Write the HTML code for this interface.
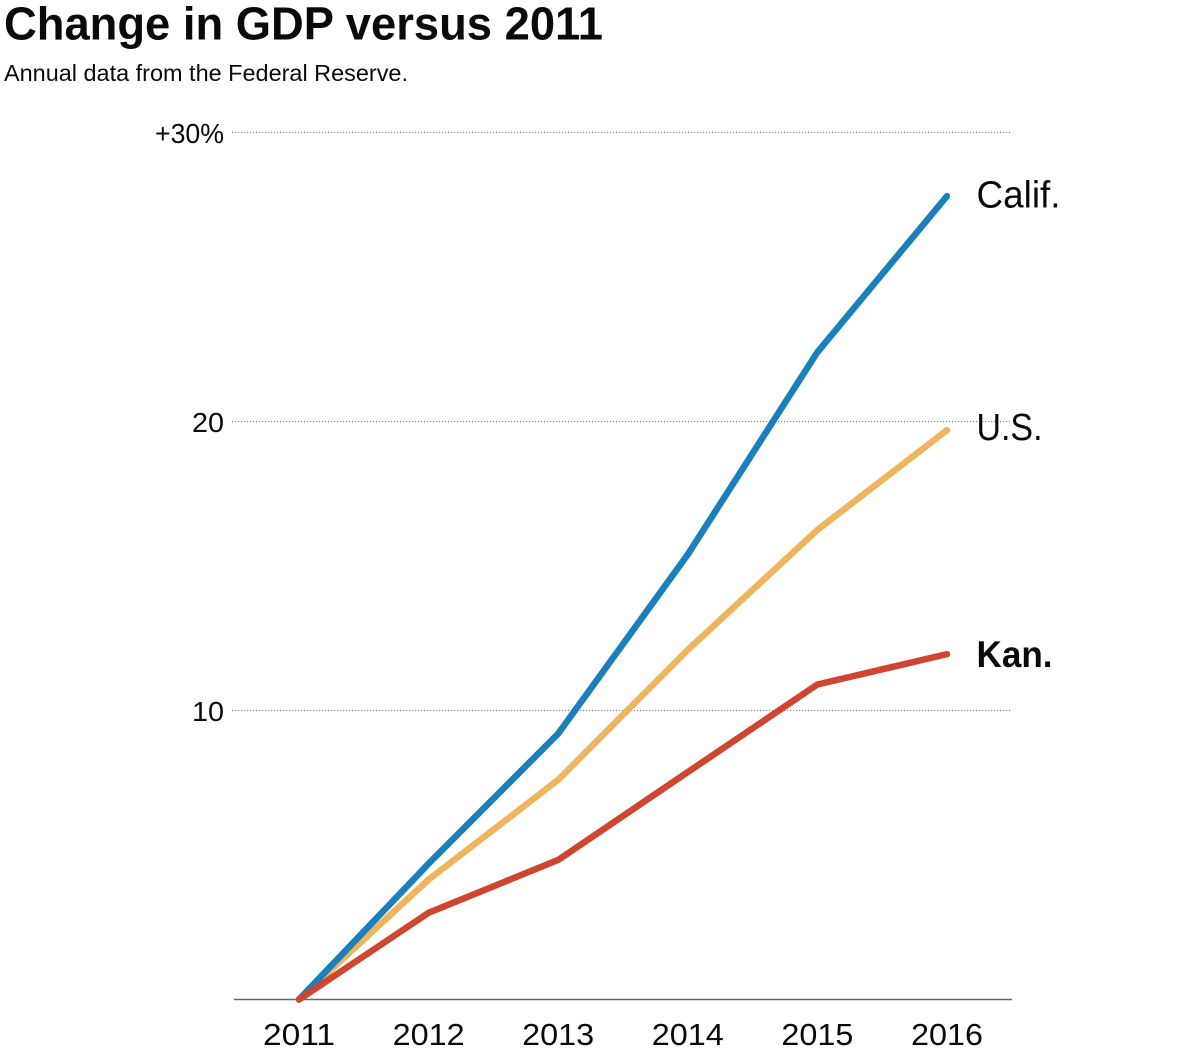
<!DOCTYPE html>
<html lang="en">
<head>
<meta charset="utf-8">
<title>Change in GDP versus 2011</title>
<style>
html,body{margin:0;padding:0;background:#fff;}
body{width:1200px;height:1060px;overflow:hidden;}
svg{display:block;}
text{font-family:"Liberation Sans",sans-serif;fill:#0a0a0a;}
</style>
</head>
<body>
<svg id="chart" width="1200" height="1060" viewBox="0 0 1200 1060" xmlns="http://www.w3.org/2000/svg">
  <text x="4" y="39.5" font-size="46" font-weight="700" textLength="599" lengthAdjust="spacingAndGlyphs">Change in GDP versus 2011</text>
  <text x="4" y="81" font-size="23.5" textLength="404" lengthAdjust="spacingAndGlyphs">Annual data from the Federal Reserve.</text>
  <g id="grid"></g>
  <g id="yaxis"></g>
  <g id="xaxis"></g>
  <g id="lines"></g>
  <g id="labels"></g>
</svg>
<script>
const years = [2011, 2012, 2013, 2014, 2015, 2016];
const yTicks = [10, 20, 30];
const yTickLabels = ["10", "20", "+30%"];
const califValues = [0, 4.7, 9.2, 15.4, 22.4, 27.8];
const usValues = [0, 4.15, 7.6, 12.1, 16.25, 19.7];
const kanValues = [0, 3.0, 4.83, 7.87, 10.9, 11.95];

const NS = 'http://www.w3.org/2000/svg';
const xScale = year => 299 + (year - 2011) * 129.6;
const yScale = value => 999.5 - value * 28.9;

function make(tag, attrs, parent, content) {
  const el = document.createElementNS(NS, tag);
  Object.keys(attrs).forEach(k => el.setAttribute(k, attrs[k]));
  if (content !== undefined) el.textContent = content;
  parent.appendChild(el);
  return el;
}

const grid = document.getElementById('grid');
const yaxis = document.getElementById('yaxis');
const xaxis = document.getElementById('xaxis');
const lines = document.getElementById('lines');
const labels = document.getElementById('labels');

yTicks.forEach((t, i) => {
  const line = make('line', {x1: 232, x2: 1012, y1: yScale(t), y2: yScale(t), stroke: '#8a8a8a', 'stroke-width': 1.2, 'stroke-dasharray': '1.2 1.8'}, grid);
  
  
  const label = make('text', {x: 224, y: yScale(t) + 10.5, 'text-anchor': 'end', 'font-size': 27.5, textLength: yTickLabels[i].length > 2 ? 69 : 32, lengthAdjust: 'spacingAndGlyphs'}, yaxis, yTickLabels[i]);
  
  
});

const baseline = make('line', {x1: 234, x2: 1012, y1: yScale(0), y2: yScale(0), stroke: '#666', 'stroke-width': 1.4}, xaxis);



years.forEach(y => {
  const label = make('text', {x: xScale(y), y: 1045, 'text-anchor': 'middle', 'font-size': 31, textLength: 72, lengthAdjust: 'spacingAndGlyphs'}, xaxis, String(y));
  
  
});

function drawSeries(values, color) {
  const points = values.map((v, i) => xScale(years[i]) + ',' + yScale(v)).join(' ');
  return make('polyline', {points: points, fill: 'none', stroke: color, 'stroke-width': 6.5, 'stroke-linecap': 'round', 'stroke-linejoin': 'round'}, lines);
}

const usLine = drawSeries(usValues, '#f0b55c');



const califLine = drawSeries(califValues, '#1a80bb');



const kanLine = drawSeries(kanValues, '#cf452f');



const califLabel = make('text', {x: 976.5, y: yScale(califValues[5]) + 11.5, 'font-size': 38, textLength: 84, lengthAdjust: 'spacingAndGlyphs'}, labels, 'Calif.');



const usLabel = make('text', {x: 976.5, y: yScale(usValues[5]) + 10, 'font-size': 38, textLength: 66, lengthAdjust: 'spacingAndGlyphs'}, labels, 'U.S.');



const kanLabel = make('text', {x: 976.5, y: yScale(kanValues[5]) + 13, 'font-size': 37.5, 'font-weight': 700, textLength: 76, lengthAdjust: 'spacingAndGlyphs'}, labels, 'Kan.');


</script>
</body>
</html>
